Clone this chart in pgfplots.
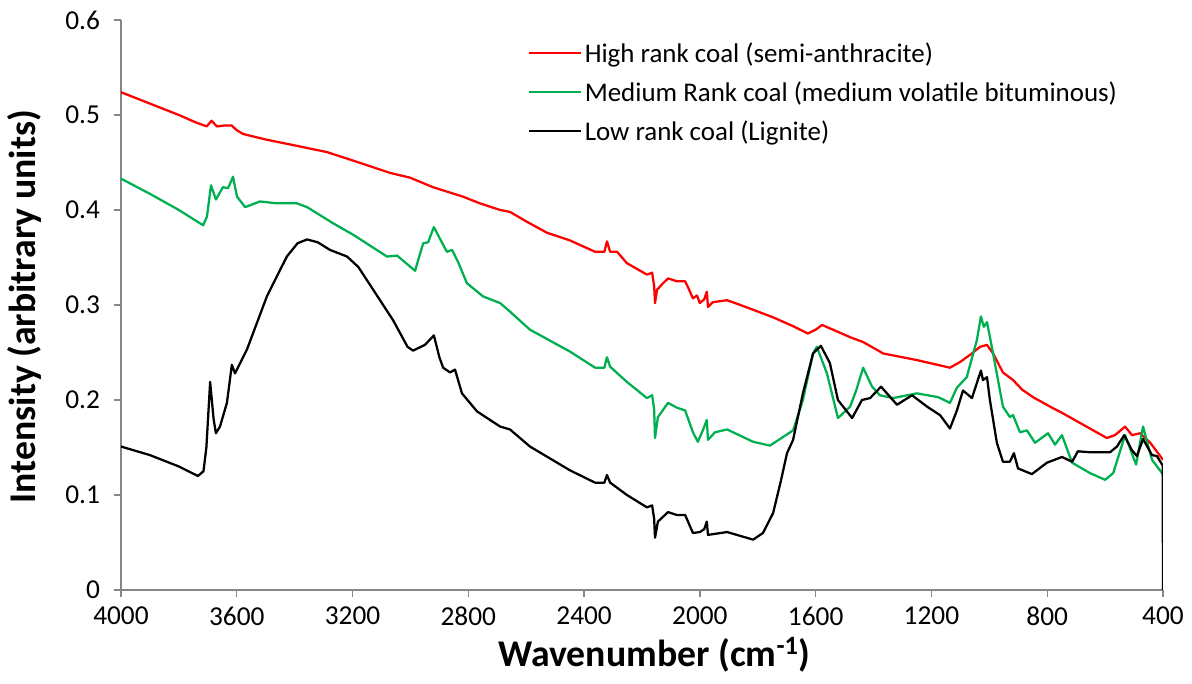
\documentclass[border=0pt]{standalone}
\usepackage{pgfplots}
\pgfplotsset{compat=1.18}
\usepackage{fontspec}
\setmainfont{Carlito}
\definecolor{axgray}{HTML}{868686}
\definecolor{mygreen}{HTML}{00B050}
\begin{document}
\begin{tikzpicture}
\path[use as bounding box] (-90.75pt,-70.5pt) rectangle (803.25pt,442.5pt);
\begin{axis}[
  at={(0,0)}, anchor=south west,
  scale only axis, width=781.5pt, height=427.5pt,
  x dir=reverse,
  xmin=400, xmax=4000, ymin=0, ymax=0.6,
  xtick={400,800,...,4000},
  ytick={0,0.1,0.2,0.3,0.4,0.5,0.6},
  yticklabels={0,0.1,0.2,0.3,0.4,0.5,0.6},
  axis lines=left,
  axis line style={axgray, line width=1pt, -},
  every tick/.style={axgray, line width=1pt},
  tick align=outside,
  major tick length=5.25pt,
  /pgf/number format/assume math mode=true,
  /pgf/number format/1000 sep={},
  tick label style={font=\fontsize{20.5}{23}\selectfont, text=black},
  xticklabel style={yshift=-4pt},
  yticklabel style={xshift=-7pt},
  xlabel={\textbf{Wavenumber (cm\textsuperscript{-1})}},
  ylabel={\textbf{Intensity (arbitrary units)}},
  label style={font=\fontsize{28.3}{30}\selectfont},
  xlabel style={at={(axis description cs:0.512,-0.114)}, anchor=center},
  ylabel style={at={(axis description cs:-0.0931,0.497)}, anchor=center},
  legend style={at={(axis description cs:0.3906,0.966)}, anchor=north west,
    draw=none, fill=none, font=\fontsize{20.2}{23}\selectfont,
    row sep=9pt, inner xsep=0pt, inner ysep=0pt},
  legend cell align=left,
  legend image code/.code={\draw[#1, line width=1.4pt] (0pt,0pt) -- (39pt,0pt);},
  every axis plot/.append style={line width=1.7pt, line join=round},
]
\addplot[red, no markers] coordinates {
(4000,0.524)(3900,0.512)(3800,0.500)(3740,0.492)(3704,0.488)(3687,0.494)(3669,0.488)
(3640,0.489)(3618,0.489)(3600,0.484)(3578,0.480)(3497,0.474)(3400,0.468)(3289,0.461)
(3198,0.452)(3070,0.439)(3001,0.434)(2922,0.424)(2818,0.414)(2760,0.407)(2690,0.400)
(2656,0.398)(2600,0.388)(2528,0.376)(2449,0.368)(2362,0.356)(2330,0.356)(2321,0.367)
(2310,0.356)(2286,0.356)(2252,0.344)(2183,0.332)(2165,0.334)(2158,0.320)(2155,0.302)
(2148,0.316)(2130,0.322)(2110,0.328)(2080,0.325)(2051,0.325)(2040,0.318)(2024,0.307)
(2010,0.310)(2000,0.302)(1985,0.306)(1976,0.314)(1972,0.298)(1955,0.303)(1906,0.305)
(1860,0.300)(1816,0.295)(1747,0.287)(1680,0.278)(1627,0.270)(1600,0.274)(1578,0.279)
(1540,0.274)(1480,0.266)(1436,0.261)(1378,0.251)(1367,0.249)(1300,0.245)(1250,0.242)
(1136,0.234)(1101,0.240)(1060,0.249)(1032,0.256)(1008,0.258)(987,0.249)(953,0.229)
(918,0.221)(887,0.211)(849,0.203)(790,0.193)(746,0.186)(676,0.174)(594,0.160)
(566,0.163)(531,0.172)(507,0.163)(479,0.165)(444,0.155)(417,0.144)(400,0.137)
};
\addlegendentry{High rank coal (semi-anthracite)}
\addplot[mygreen, no markers] coordinates {
(4000,0.433)(3900,0.417)(3800,0.400)(3727,0.386)(3716,0.384)(3703,0.393)(3689,0.426)
(3672,0.411)(3648,0.424)(3630,0.423)(3613,0.435)(3599,0.414)(3571,0.403)(3520,0.409)
(3461,0.407)(3392,0.407)(3357,0.403)(3267,0.386)(3198,0.374)(3081,0.351)(3046,0.352)
(3019,0.345)(2984,0.336)(2956,0.365)(2939,0.366)(2919,0.382)(2895,0.368)(2874,0.356)
(2856,0.358)(2835,0.345)(2805,0.323)(2749,0.309)(2690,0.302)(2656,0.293)(2587,0.274)
(2449,0.251)(2362,0.234)(2330,0.234)(2321,0.245)(2310,0.235)(2252,0.219)(2183,0.202)
(2165,0.205)(2158,0.190)(2155,0.160)(2145,0.182)(2110,0.197)(2080,0.192)(2051,0.189)
(2024,0.166)(2007,0.156)(1990,0.168)(1976,0.179)(1972,0.158)(1948,0.166)(1906,0.169)
(1816,0.156)(1758,0.152)(1678,0.168)(1644,0.200)(1609,0.249)(1596,0.256)(1561,0.228)
(1523,0.181)(1481,0.193)(1460,0.210)(1436,0.234)(1405,0.214)(1378,0.205)(1333,0.202)
(1250,0.207)(1177,0.203)(1136,0.197)(1112,0.213)(1078,0.224)(1043,0.263)(1029,0.288)
(1019,0.277)(1008,0.282)(987,0.249)(953,0.193)(929,0.182)(918,0.184)(894,0.166)
(870,0.168)(842,0.155)(797,0.165)(773,0.153)(749,0.163)(714,0.134)(652,0.123)
(600,0.116)(572,0.123)(531,0.163)(493,0.132)(469,0.172)(438,0.137)(403,0.123)(400,0.120)
};
\addlegendentry{Medium Rank coal (medium volatile bituminous)}
\addplot[black, no markers] coordinates {
(4000,0.151)(3900,0.142)(3800,0.130)(3734,0.120)(3715,0.125)(3705,0.150)(3692,0.219)
(3680,0.180)(3672,0.165)(3658,0.172)(3634,0.197)(3617,0.237)(3606,0.228)(3565,0.253)
(3496,0.309)(3427,0.351)(3390,0.365)(3357,0.369)(3320,0.366)(3278,0.358)(3219,0.351)
(3180,0.340)(3150,0.326)(3060,0.284)(3010,0.256)(2991,0.252)(2950,0.258)(2919,0.268)
(2900,0.245)(2887,0.234)(2863,0.229)(2846,0.232)(2822,0.207)(2770,0.188)(2690,0.172)
(2656,0.169)(2587,0.151)(2449,0.126)(2362,0.113)(2330,0.113)(2321,0.121)(2310,0.113)
(2252,0.100)(2183,0.087)(2165,0.089)(2158,0.075)(2155,0.055)(2145,0.072)(2110,0.082)
(2080,0.079)(2051,0.079)(2024,0.060)(2000,0.061)(1985,0.064)(1976,0.072)(1972,0.058)
(1906,0.061)(1816,0.053)(1782,0.060)(1747,0.081)(1720,0.115)(1699,0.144)(1678,0.158)
(1644,0.207)(1609,0.249)(1582,0.257)(1551,0.239)(1523,0.200)(1474,0.181)(1440,0.200)
(1412,0.202)(1374,0.214)(1319,0.195)(1267,0.205)(1215,0.193)(1170,0.184)(1136,0.170)
(1112,0.189)(1091,0.210)(1060,0.202)(1029,0.231)(1022,0.221)(1008,0.224)(998,0.200)
(974,0.155)(953,0.135)(929,0.135)(915,0.144)(901,0.128)(853,0.122)(801,0.134)
(749,0.140)(714,0.135)(694,0.146)(652,0.145)(583,0.145)(559,0.151)(534,0.163)
(507,0.147)(490,0.141)(469,0.159)(438,0.142)(421,0.141)(401,0.131)(400,0.0)
};
\addlegendentry{Low rank coal (Lignite)}
\end{axis}
\end{tikzpicture}
\end{document}
